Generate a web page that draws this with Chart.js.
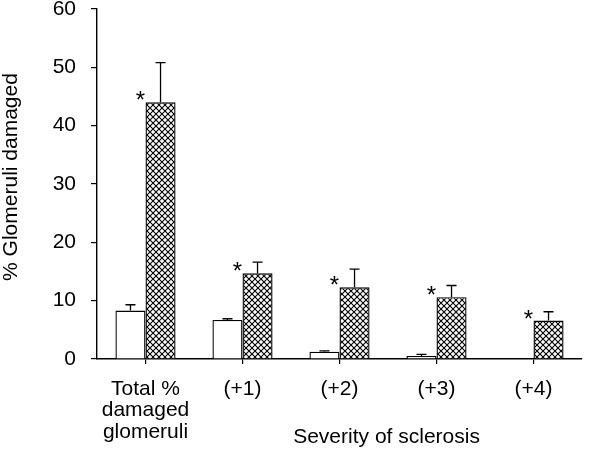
<!DOCTYPE html>
<html>
<head>
<meta charset="utf-8">
<script src="https://cdn.jsdelivr.net/npm/chart.js@4/dist/chart.umd.min.js"></script>
<style>
html,body{margin:0;padding:0;background:#fff;}
#wrap{width:600px;height:453px;}
</style>
</head>
<body>
<div id="wrap"><canvas id="c" width="600" height="453"></canvas></div>
<script>
const categories = [['Total %','damaged','glomeruli'], '(+1)', '(+2)', '(+3)', '(+4)'];
const controlValues = [8.3, 6.7, 1.25, 0.5, 0];
const controlErrors = [1.0, 0.2, 0.15, 0.3, 0];
const treatedValues = [44.0, 14.7, 12.3, 10.6, 6.6];
const treatedErrors = [6.8, 1.9, 3.1, 2.0, 1.5];
const treatedSignificant = [true, true, true, true, true];
const yTicks = [0, 10, 20, 30, 40, 50, 60];
const xTitle = 'Severity of sclerosis';
const yTitle = '% Glomeruli damaged';

const FONT = "'Liberation Sans', Arial, sans-serif";

function makeHatch(){
  const s = 6;
  const p = document.createElement('canvas');
  p.width = s; p.height = s;
  const g = p.getContext('2d');
  g.fillStyle = '#fff'; g.fillRect(0,0,s,s);
  g.strokeStyle = '#000'; g.lineWidth = 1.1;
  g.beginPath();
  g.moveTo(-1,-1); g.lineTo(s+1,s+1);
  g.moveTo(s+1,-1); g.lineTo(-1,s+1);
  g.stroke();
  return g.createPattern(p,'repeat');
}
const ctx0 = document.getElementById('c').getContext('2d');
const hatch = makeHatch();

const errorPlugin = {
  id: 'errs',
  afterDatasetsDraw(chart){
    const ctx = chart.ctx;
    const y = chart.scales.y;
    const sets = [[controlValues, controlErrors, null],[treatedValues, treatedErrors, treatedSignificant]];
    ctx.save();
    ctx.strokeStyle = '#000';
    ctx.lineWidth = 1.3;
    sets.forEach((s, di) => {
      const meta = chart.getDatasetMeta(di);
      meta.data.forEach((bar, i) => {
        const v = s[0][i], e = s[1][i];
        if (e > 0) {
          const top = y.getPixelForValue(v + e);
          const base = y.getPixelForValue(v);
          ctx.beginPath();
          ctx.moveTo(bar.x, base);
          ctx.lineTo(bar.x, top);
          ctx.moveTo(bar.x - 5, top);
          ctx.lineTo(bar.x + 5, top);
          ctx.stroke();
        }
        if (s[2] && s[2][i]) {
          const base = y.getPixelForValue(v);
          ctx.fillStyle = '#000';
          ctx.font = '24px ' + FONT;
          ctx.textAlign = 'center';
          ctx.textBaseline = 'alphabetic';
          ctx.fillText('*', bar.x - bar.width/2 - 5, base + 6);
        }
      });
    });
    // axis titles
    const ca = chart.chartArea;
    ctx.fillStyle = '#000';
    ctx.font = '21px ' + FONT;
    ctx.textAlign = 'center';
    ctx.textBaseline = 'middle';
    ctx.fillText(xTitle, ca.left + (ca.right - ca.left) * 0.597, 437);
    ctx.translate(11, ca.top + (ca.bottom - ca.top) * 0.48);
    ctx.rotate(-Math.PI/2);
    ctx.fillText(yTitle, 0, 0);
    ctx.restore();
  }
};

new Chart(ctx0, {
  type: 'bar',
  data: {
    labels: categories,
    datasets: [
      {data: controlValues, backgroundColor: '#fff', borderColor: '#000', borderWidth: 1.4, categoryPercentage: 0.62, barPercentage: 1.0},
      {data: treatedValues, backgroundColor: hatch, borderColor: '#000', borderWidth: 1.4, categoryPercentage: 0.62, barPercentage: 1.0}
    ]
  },
  options: {
    responsive: false,
    animation: false,
    devicePixelRatio: 1,
    layout: {padding: {top: 9, right: 18, left: 0, bottom: 0}},
    plugins: {legend: {display: false}, tooltip: {enabled: false}},
    scales: {
      x: {
        offset: true,
        grid: {offset: false, drawOnChartArea: false, drawTicks: true, tickLength: 5, color: '#000', lineWidth: 1.2},
        border: {color: '#000', width: 1.4},
        ticks: {color: '#000', font: {family: FONT, size: 21, lineHeight: 1.03}, padding: 14, maxRotation: 0, autoSkip: false},
        afterFit(s){ s.height = 94; s.paddingLeft = 0; s.paddingRight = 0; }
      },
      y: {
        min: 0, max: 60,
        afterBuildTicks(s){ s.ticks = yTicks.map(v => ({value: v})); },
        grid: {drawOnChartArea: false, drawTicks: true, tickLength: 6, color: '#000', lineWidth: 1.2},
        border: {color: '#000', width: 1.4},
        ticks: {color: '#000', font: {family: FONT, size: 21}, padding: 15},
        afterFit(s){ s.width = 97; s.paddingTop = 0; s.paddingBottom = 0; }
      }
    }
  },
  plugins: [errorPlugin]
});
</script>
</body>
</html>
